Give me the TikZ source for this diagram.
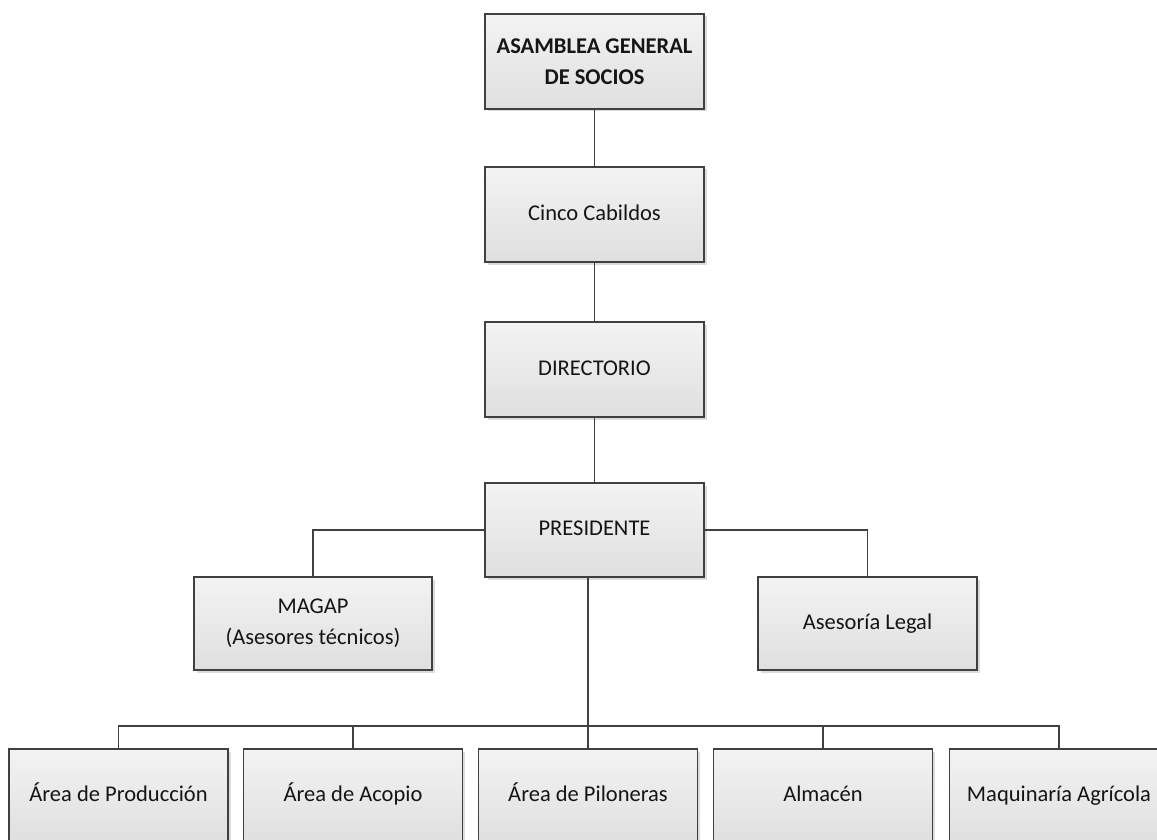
\documentclass[tikz,border=0pt]{standalone}
\usepackage{fontspec}
\setmainfont{Carlito}
\usetikzlibrary{shadows}
\definecolor{edge}{HTML}{404040}
\definecolor{ftop}{HTML}{F3F3F3}
\definecolor{fbot}{HTML}{DFDFDF}
\definecolor{txt}{HTML}{151515}
\tikzset{
  orgbox/.style={rectangle, draw=edge, line width=1.9pt, top color=ftop, bottom color=fbot,
    minimum width=219pt, minimum height=95pt, align=center, inner sep=2pt,
    text=txt, font=\fontsize{22.5}{31}\selectfont,
    drop shadow={shadow xshift=2.5pt, shadow yshift=-2.5pt, fill=black!30, opacity=0.45}},
  oneline/.style={text height=16pt, text depth=5pt},
  link/.style={draw=edge, line width=1.9pt}
}
\begin{document}
\begin{tikzpicture}[x=1pt,y=-1pt]
\useasboundingbox (0,0) rectangle (1157,840);
\clip (0,0) rectangle (1157,840);
\fill[white] (0,0) rectangle (1157,840);
\node[orgbox, font=\fontsize{22.5}{31}\selectfont\bfseries] (asam) at (594.5,61.5) {ASAMBLEA GENERAL\\DE SOCIOS};
\node[orgbox, oneline] (cinco) at (594.5,214.5) {Cinco Cabildos};
\node[orgbox, oneline] (dir) at (594.5,369.5) {DIRECTORIO};
\node[orgbox, oneline, minimum height=94pt] (pres) at (594.5,530) {PRESIDENTE};
\node[orgbox, minimum width=238pt, minimum height=93pt] (magap) at (313,623.5) {MAGAP\\(Asesores técnicos)};
\node[orgbox, oneline, minimum height=93pt] (legal) at (867.5,623.5) {Asesoría Legal};
\node[orgbox, oneline, minimum height=94pt] (b1) at (118.5,796) {Área de Producción};
\node[orgbox, oneline, minimum height=94pt] (b2) at (353,796) {Área de Acopio};
\node[orgbox, oneline, minimum height=94pt] (b3) at (588,796) {Área de Piloneras};
\node[orgbox, oneline, minimum height=94pt] (b4) at (823,796) {Almacén};
\node[orgbox, oneline, minimum height=94pt] (b5) at (1059,796) {Maquinaría Agrícola};
\coordinate (bus) at (588,726);
\draw[link] (asam.south) -- (cinco.north);
\draw[link] (cinco.south) -- (dir.north);
\draw[link] (dir.south) -- (pres.north);
\draw[link] (pres.west) -| (magap.north);
\draw[link] (pres.east) -| (legal.north);
\draw[link] (pres.south -| b3.north) -- (b3.north);
\draw[link] (b1.north) |- (bus) -| (b5.north);
\draw[link] (b2.north) -- (b2.north |- bus);
\draw[link] (b4.north) -- (b4.north |- bus);
\end{tikzpicture}
\end{document}
